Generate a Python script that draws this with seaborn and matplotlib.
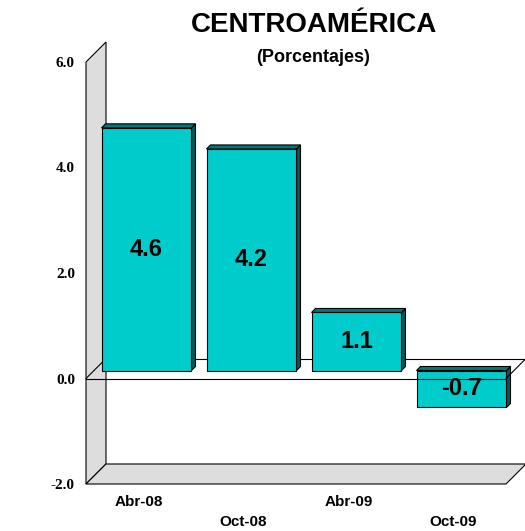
import pandas as pd
import seaborn as sns
import matplotlib.pyplot as plt
from matplotlib.patches import Polygon
from matplotlib.lines import Line2D
from matplotlib.transforms import ScaledTranslation, IdentityTransform, blended_transform_factory

# ------------------------------
# Datos
# ------------------------------
periodos = ['Abr-08', 'Oct-08', 'Abr-09', 'Oct-09']
valores = [4.6, 4.2, 1.1, -0.7]
ticks_y = [-2.0, 0.0, 2.0, 4.0, 6.0]

titulo = 'CENTROAMÉRICA'
subtitulo = '(Porcentajes)'

# ------------------------------
# Figura
# ------------------------------
sns.set_style('white')
plt.rcParams['font.family'] = ['Liberation Sans', 'DejaVu Sans']
plt.rcParams['text.color'] = 'black'
plt.rcParams['ytick.color'] = 'black'

W, H = 525, 531
fig = plt.figure(figsize=(W / 100, H / 100), dpi=100)
# plano frontal del grafico 3D
ax = fig.add_axes([86 / W, (H - 484) / H, 420 / W, 422 / H])
ax.patch.set_visible(False)

df = pd.DataFrame({'periodo': periodos, 'valor': valores})
sns.barplot(data=df, x='periodo', y='valor', color='#00CCCC', saturation=1,
            width=0.857, edgecolor='black', linewidth=0.8, ax=ax, zorder=3)

ax.set_xlim(-0.5, 3.5)
ax.set_ylim(-2, 6)
for s in ax.spines.values():
    s.set_visible(False)

# desplazamientos de profundidad (px)
fondo = 20
prof_barra = 8
grosor = 4
off_barra = ScaledTranslation(prof_barra / 100, prof_barra / 100, fig.dpi_scale_trans)


def d(x, y, off):
    px, py = ax.transData.transform((x, y))
    return (px + off, py + off)


def poligono(pts, color, z):
    pol = Polygon(pts, closed=True, facecolor=color, edgecolor='black',
                  linewidth=0.8, transform=IdentityTransform(), clip_on=False, zorder=z)
    ax.add_artist(pol)


def linea(p1, p2, z):
    ln = Line2D([p1[0], p2[0]], [p1[1], p2[1]], color='black', linewidth=0.8,
                transform=IdentityTransform(), clip_on=False, zorder=z)
    ax.add_artist(ln)


barras = list(ax.patches)

# pared izquierda y piso
poligono([d(-0.5, -2, 0), d(-0.5, 6, 0), d(-0.5, 6, fondo), d(-0.5, -2, fondo)], '#DDDDDD', 1)
poligono([d(-0.5, -2, 0), d(3.5, -2, 0), d(3.5, -2, fondo), d(-0.5, -2, fondo)], '#DDDDDD', 1)

# plano del cero
linea(d(-0.5, 0, fondo), d(3.5, 0, fondo), 2)
linea(d(-0.5, 0, 0), d(-0.5, 0, fondo), 2)
linea(d(3.5, 0, 0), d(3.5, 0, fondo), 5)
linea(d(-0.5, 0, 0), d(3.5, 0, 0), 5)

# barras con volumen
for p in barras:
    p.set_transform(ax.transData + off_barra)
    p.set_clip_on(False)
    x0, w = p.get_x(), p.get_width()
    y0, h = p.get_y(), p.get_height()
    yb, yt = min(y0, y0 + h), max(y0, y0 + h)
    a, b = prof_barra, prof_barra + grosor
    poligono([d(x0 + w, yb, a), d(x0 + w, yb, b), d(x0 + w, yt, b), d(x0 + w, yt, a)], '#005A5A', 2.5)
    poligono([d(x0, yt, a), d(x0, yt, b), d(x0 + w, yt, b), d(x0 + w, yt, a)], '#007878', 2.5)

# etiquetas de valores
for i, v in enumerate(valores):
    ax.text(i, v / 2, f'{v:.1f}', transform=ax.transData + off_barra,
            ha='center', va='center', fontsize=17, fontweight='bold', zorder=6)

# eje y
ax.set_yticks(ticks_y)
ax.set_yticklabels([f'{t:.1f}' for t in ticks_y], fontfamily=['Liberation Serif'],
                   fontweight='bold', fontsize=11)
ax.tick_params(axis='y', length=0, pad=8, labelcolor='black')

# eje x escalonado
ax.set_xticks([])
ax.set_xlabel('')
ax.set_ylabel('')
trans_x = blended_transform_factory(ax.transData, ax.transAxes)
for i, p in enumerate(periodos):
    bajada = 0.18 if i % 2 == 0 else 0.38
    ax.text(i, 0, p, transform=trans_x + ScaledTranslation(0, -bajada, fig.dpi_scale_trans),
            ha='center', va='center', fontsize=11, fontweight='bold')

# titulos
fig.text(313.5 / W, 1 - 25 / H, titulo, ha='center', va='center', fontsize=20, fontweight='bold')
fig.text(313.5 / W, 1 - 58 / H, subtitulo, ha='center', va='center', fontsize=13, fontweight='bold')

fig.savefig('out.png', dpi=100)
